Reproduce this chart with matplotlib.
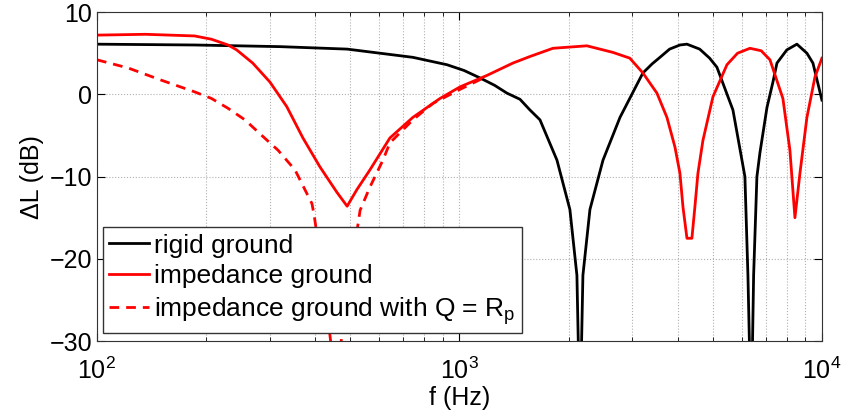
import numpy as np
import matplotlib
matplotlib.use('Agg')
import matplotlib.pyplot as plt
from matplotlib.ticker import LogLocator, NullFormatter

plt.rcParams['font.family'] = ['Liberation Sans', 'DejaVu Sans']
plt.rcParams['mathtext.default'] = 'regular'

# rigid ground
f_rigid = [100, 186, 320, 490, 744, 924, 1030, 1139, 1250, 1352, 1469, 1565, 1668,
           1858, 2017, 2109, 2150, 2191, 2291, 2489, 2773, 3207, 3400, 3574, 3800,
           4058, 4243, 4600, 4900, 5132, 5682, 6131, 6250, 6380, 6480, 6617, 6745,
           7053, 7326, 7515, 8000, 8531, 9091, 9446, 10000]
dl_rigid = [6.1, 6.0, 5.8, 5.5, 4.5, 3.6, 2.9, 2.0, 1.1, 0.15, -0.6, -1.9, -3.1,
            -8, -14, -22, -40, -22, -14, -8, -2.8, 2.6, 3.7, 4.5, 5.5,
            6.0, 6.1, 5.5, 4.4, 3.3, -1.9, -10, -22, -40, -22, -10, -7.1,
            -1.6, 1.5, 3.8, 5.4, 6.1, 5.0, 3.8, -0.7]

# impedance ground
f_imp = [100, 136, 186, 207, 230, 243, 269, 300, 334, 370, 412, 459, 490, 521, 566,
         643, 744, 884, 1003, 1191, 1404, 1565, 1811, 2247, 2651, 2951, 3207, 3506,
         3736, 3931, 4058, 4137, 4243, 4378, 4462, 4549, 4696, 5004, 5470, 5850,
         6330, 6800, 7189, 7804, 8160, 8424, 8696, 9091, 9566, 10000]
dl_imp = [7.2, 7.3, 7.1, 6.7, 6.0, 5.4, 3.8, 1.5, -1.5, -5.3, -8.8, -11.9, -13.6,
          -11.6, -9.2, -5.3, -2.8, -0.5, 0.9, 2.3, 3.8, 4.6, 5.6, 5.9, 5.1, 4.4,
          2.6, 0.15, -2.8, -6.4, -9.6, -13.7, -17.5, -17.5, -13.7, -9.6, -5.6, -0.3,
          3.6, 5.0, 5.6, 5.3, 4.2, -0.5, -6.8, -15, -9.6, -2.8, 2.1, 4.4]

# impedance ground with Q = Rp
f_q = [100, 122, 151, 186, 207, 230, 256, 285, 316, 352, 392, 398, 420, 455, 500,
       532, 566, 615, 643, 744, 845, 1003, 1191]
dl_q = [4.2, 3.2, 1.7, 0.3, -0.5, -1.7, -3.1, -5.0, -6.8, -9.2, -13.3, -14.9, -22,
        -35, -22, -14.1, -11.3, -8, -5.9, -3.1, -1.1, 0.6, 2.2]

fig = plt.figure(figsize=(8.43, 4.17), dpi=100)
ax = fig.add_axes([0.115, 0.182, 0.86, 0.789])

ax.semilogx(f_rigid, dl_rigid, color='black', lw=2, label='rigid ground')
ax.semilogx(f_imp, dl_imp, color='red', lw=2, label='impedance ground')
ax.semilogx(f_q, dl_q, color='red', lw=2, ls=(0, (3.5, 2.5)),
            label='impedance ground with Q = R$_p$')

ax.set_xlim(100, 10000)
ax.set_ylim(-30, 10)
ax.set_yticks([-30, -20, -10, 0, 10])
ax.xaxis.set_minor_locator(LogLocator(base=10, subs=np.arange(2, 10)))
ax.xaxis.set_minor_formatter(NullFormatter())

ax.grid(True, which='major', ls=':', color='#b0b0b0', lw=0.8)
ax.grid(True, which='minor', axis='x', ls=':', color='#b0b0b0', lw=0.8)

ax.tick_params(which='both', direction='in', top=True, right=True, labelsize=18)
ax.tick_params(which='major', length=6)
ax.tick_params(which='minor', length=3)
ax.tick_params(axis='x', which='major', pad=12)
for s in ax.spines.values():
    s.set_color('#333333')

ax.set_xlabel('f (Hz)', fontsize=18, labelpad=1)
ax.set_ylabel('ΔL (dB)', fontsize=18, labelpad=4)

leg = ax.legend(loc='lower left', bbox_to_anchor=(0.008, 0.024), borderaxespad=0,
                fontsize=19, fancybox=False, framealpha=1, edgecolor='#333333',
                handlelength=1.5, handletextpad=0.2, labelspacing=0.25,
                borderpad=0.25)
leg.get_frame().set_linewidth(1)

fig.savefig('out.png', dpi=100)
